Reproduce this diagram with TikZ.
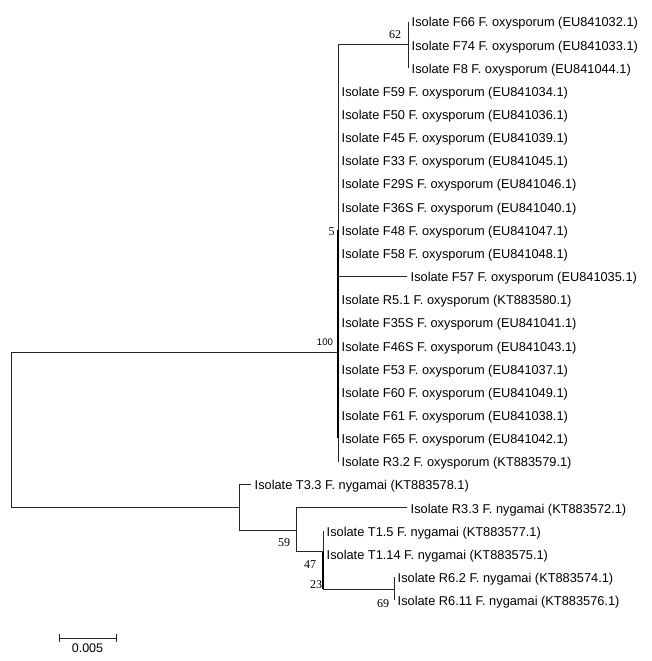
\documentclass[tikz,border=0pt]{standalone}
\usepackage{fontspec}
\setmainfont{Liberation Sans}
\newfontfamily\serifb{Liberation Serif}
\begin{document}
\begin{tikzpicture}[x=1pt,y=-1pt,
  leaf/.style={anchor=west,inner xsep=3.5pt,inner ysep=0pt,text height=10.4pt,text depth=0pt,font=\fontsize{12.8}{14}\selectfont},
  br/.style={line width=0.8pt,draw=black!85},
  thickbr/.style={line width=2.2pt,draw=black},
  boot/.style={inner sep=0pt,font=\serifb\fontsize{12}{13}\selectfont},
  bootsans/.style={inner sep=0pt,font=\fontsize{9.6}{11}\selectfont},
  scalelab/.style={inner sep=0pt,font=\fontsize{12.5}{14}\selectfont},
]
\path[use as bounding box] (0,0) rectangle (651,661);

% F. oxysporum clade leaves
\node[leaf] (F66) at (408,21.7) {Isolate F66 F. oxysporum (EU841032.1)};
\node[leaf] (F74) at (408,44.85) {Isolate F74 F. oxysporum (EU841033.1)};
\node[leaf] (F8) at (408,68.0) {Isolate F8 F. oxysporum (EU841044.1)};
\node[leaf] (F59) at (338,91.15) {Isolate F59 F. oxysporum (EU841034.1)};
\node[leaf] (F50) at (338,114.3) {Isolate F50 F. oxysporum (EU841036.1)};
\node[leaf] (F45) at (338,137.45) {Isolate F45 F. oxysporum (EU841039.1)};
\node[leaf] (F33) at (338,160.6) {Isolate F33 F. oxysporum (EU841045.1)};
\node[leaf] (F29S) at (338,183.75) {Isolate F29S F. oxysporum (EU841046.1)};
\node[leaf] (F36S) at (338,206.9) {Isolate F36S F. oxysporum (EU841040.1)};
\node[leaf] (F48) at (338,230.05) {Isolate F48 F. oxysporum (EU841047.1)};
\node[leaf] (F58) at (338,253.2) {Isolate F58 F. oxysporum (EU841048.1)};
\node[leaf] (F57) at (407,276.35) {Isolate F57 F. oxysporum (EU841035.1)};
\node[leaf] (R51) at (338,299.5) {Isolate R5.1 F. oxysporum (KT883580.1)};
\node[leaf] (F35S) at (338,322.65) {Isolate F35S F. oxysporum (EU841041.1)};
\node[leaf] (F46S) at (338,345.8) {Isolate F46S F. oxysporum (EU841043.1)};
\node[leaf] (F53) at (338,368.95) {Isolate F53 F. oxysporum (EU841037.1)};
\node[leaf] (F60) at (338,392.1) {Isolate F60 F. oxysporum (EU841049.1)};
\node[leaf] (F61) at (338,415.25) {Isolate F61 F. oxysporum (EU841038.1)};
\node[leaf] (F65) at (338,438.4) {Isolate F65 F. oxysporum (EU841042.1)};
\node[leaf] (R32) at (338,461.55) {Isolate R3.2 F. oxysporum (KT883579.1)};

% F. nygamai clade leaves
\node[leaf] (T33) at (251,484.7) {Isolate T3.3 F. nygamai (KT883578.1)};
\node[leaf] (R33) at (407,507.85) {Isolate R3.3 F. nygamai (KT883572.1)};
\node[leaf] (T15) at (323,531.0) {Isolate T1.5 F. nygamai (KT883577.1)};
\node[leaf] (T114) at (323,554.15) {Isolate T1.14 F. nygamai (KT883575.1)};
\node[leaf] (R62) at (394,577.3) {Isolate R6.2 F. nygamai (KT883574.1)};
\node[leaf] (R611) at (394,600.45) {Isolate R6.11 F. nygamai (KT883576.1)};

% internal nodes
\coordinate (Rt) at (11,352);
\coordinate (Rb) at (11,507.2);
\coordinate (A) at (338,352);
\coordinate (Bc) at (338,44.85);
\coordinate (C) at (239,507.2);
\coordinate (Cb) at (239,530);
\coordinate (Dc) at (296,530);
\coordinate (Dt) at (296,507.85);
\coordinate (Db) at (296,551.3);
\coordinate (E) at (323,551.3);
\coordinate (Ethick) at (323,552);
\coordinate (Eb) at (323,588.9);
\coordinate (Fn) at (394,588.9);

% branches: oxysporum
\draw[br] (Rt) -- (A);
\draw[br] (Bc) -- (R32.west);
\draw[thickbr] (F48.west) -- (F65.west);
\draw[br] (Bc) -- (F74.west);
\draw[br] (F66.west) -- (F8.west);
\draw[br] (F57.west -| A) -- (F57.west);

% root
\draw[br] (Rt) -- (Rb) -- (C);

% branches: nygamai
\draw[br] (T33.west -| C) -- (Cb) -- (Dc);
\draw[br] (T33.west -| C) -- (T33.west);
\draw[br] (Dt) -- (Db) -- (E);
\draw[br] (Dt) -- (R33.west);
\draw[br] (T15.west) -- (Eb) -- (Fn);
\draw[thickbr] (Ethick) -- (Eb);
\draw[br] (R62.west) -- (R611.west);

% bootstrap values
\node[boot] (b62) at (395,34.5) {62};
\node[boot] (b5) at (331.5,232) {5};
\node[bootsans] (b100) at (325,342) {100};
\node[boot] (b59) at (284,542.7) {59};
\node[boot] (b47) at (310,564.3) {47};
\node[boot] (b23) at (316,585) {23};
\node[boot] (b69) at (383,603.3) {69};

% scale bar
\coordinate (s1) at (59,638);
\coordinate (s2) at (116,638);
\draw[br] (s1) -- (s2);
\draw[br] ([yshift=-4pt]s1) -- ([yshift=4pt]s1);
\draw[br] ([yshift=-4pt]s2) -- ([yshift=4pt]s2);
\node[scalelab] (sl) at (87.5,648.5) {0.005};
\end{tikzpicture}
\end{document}
